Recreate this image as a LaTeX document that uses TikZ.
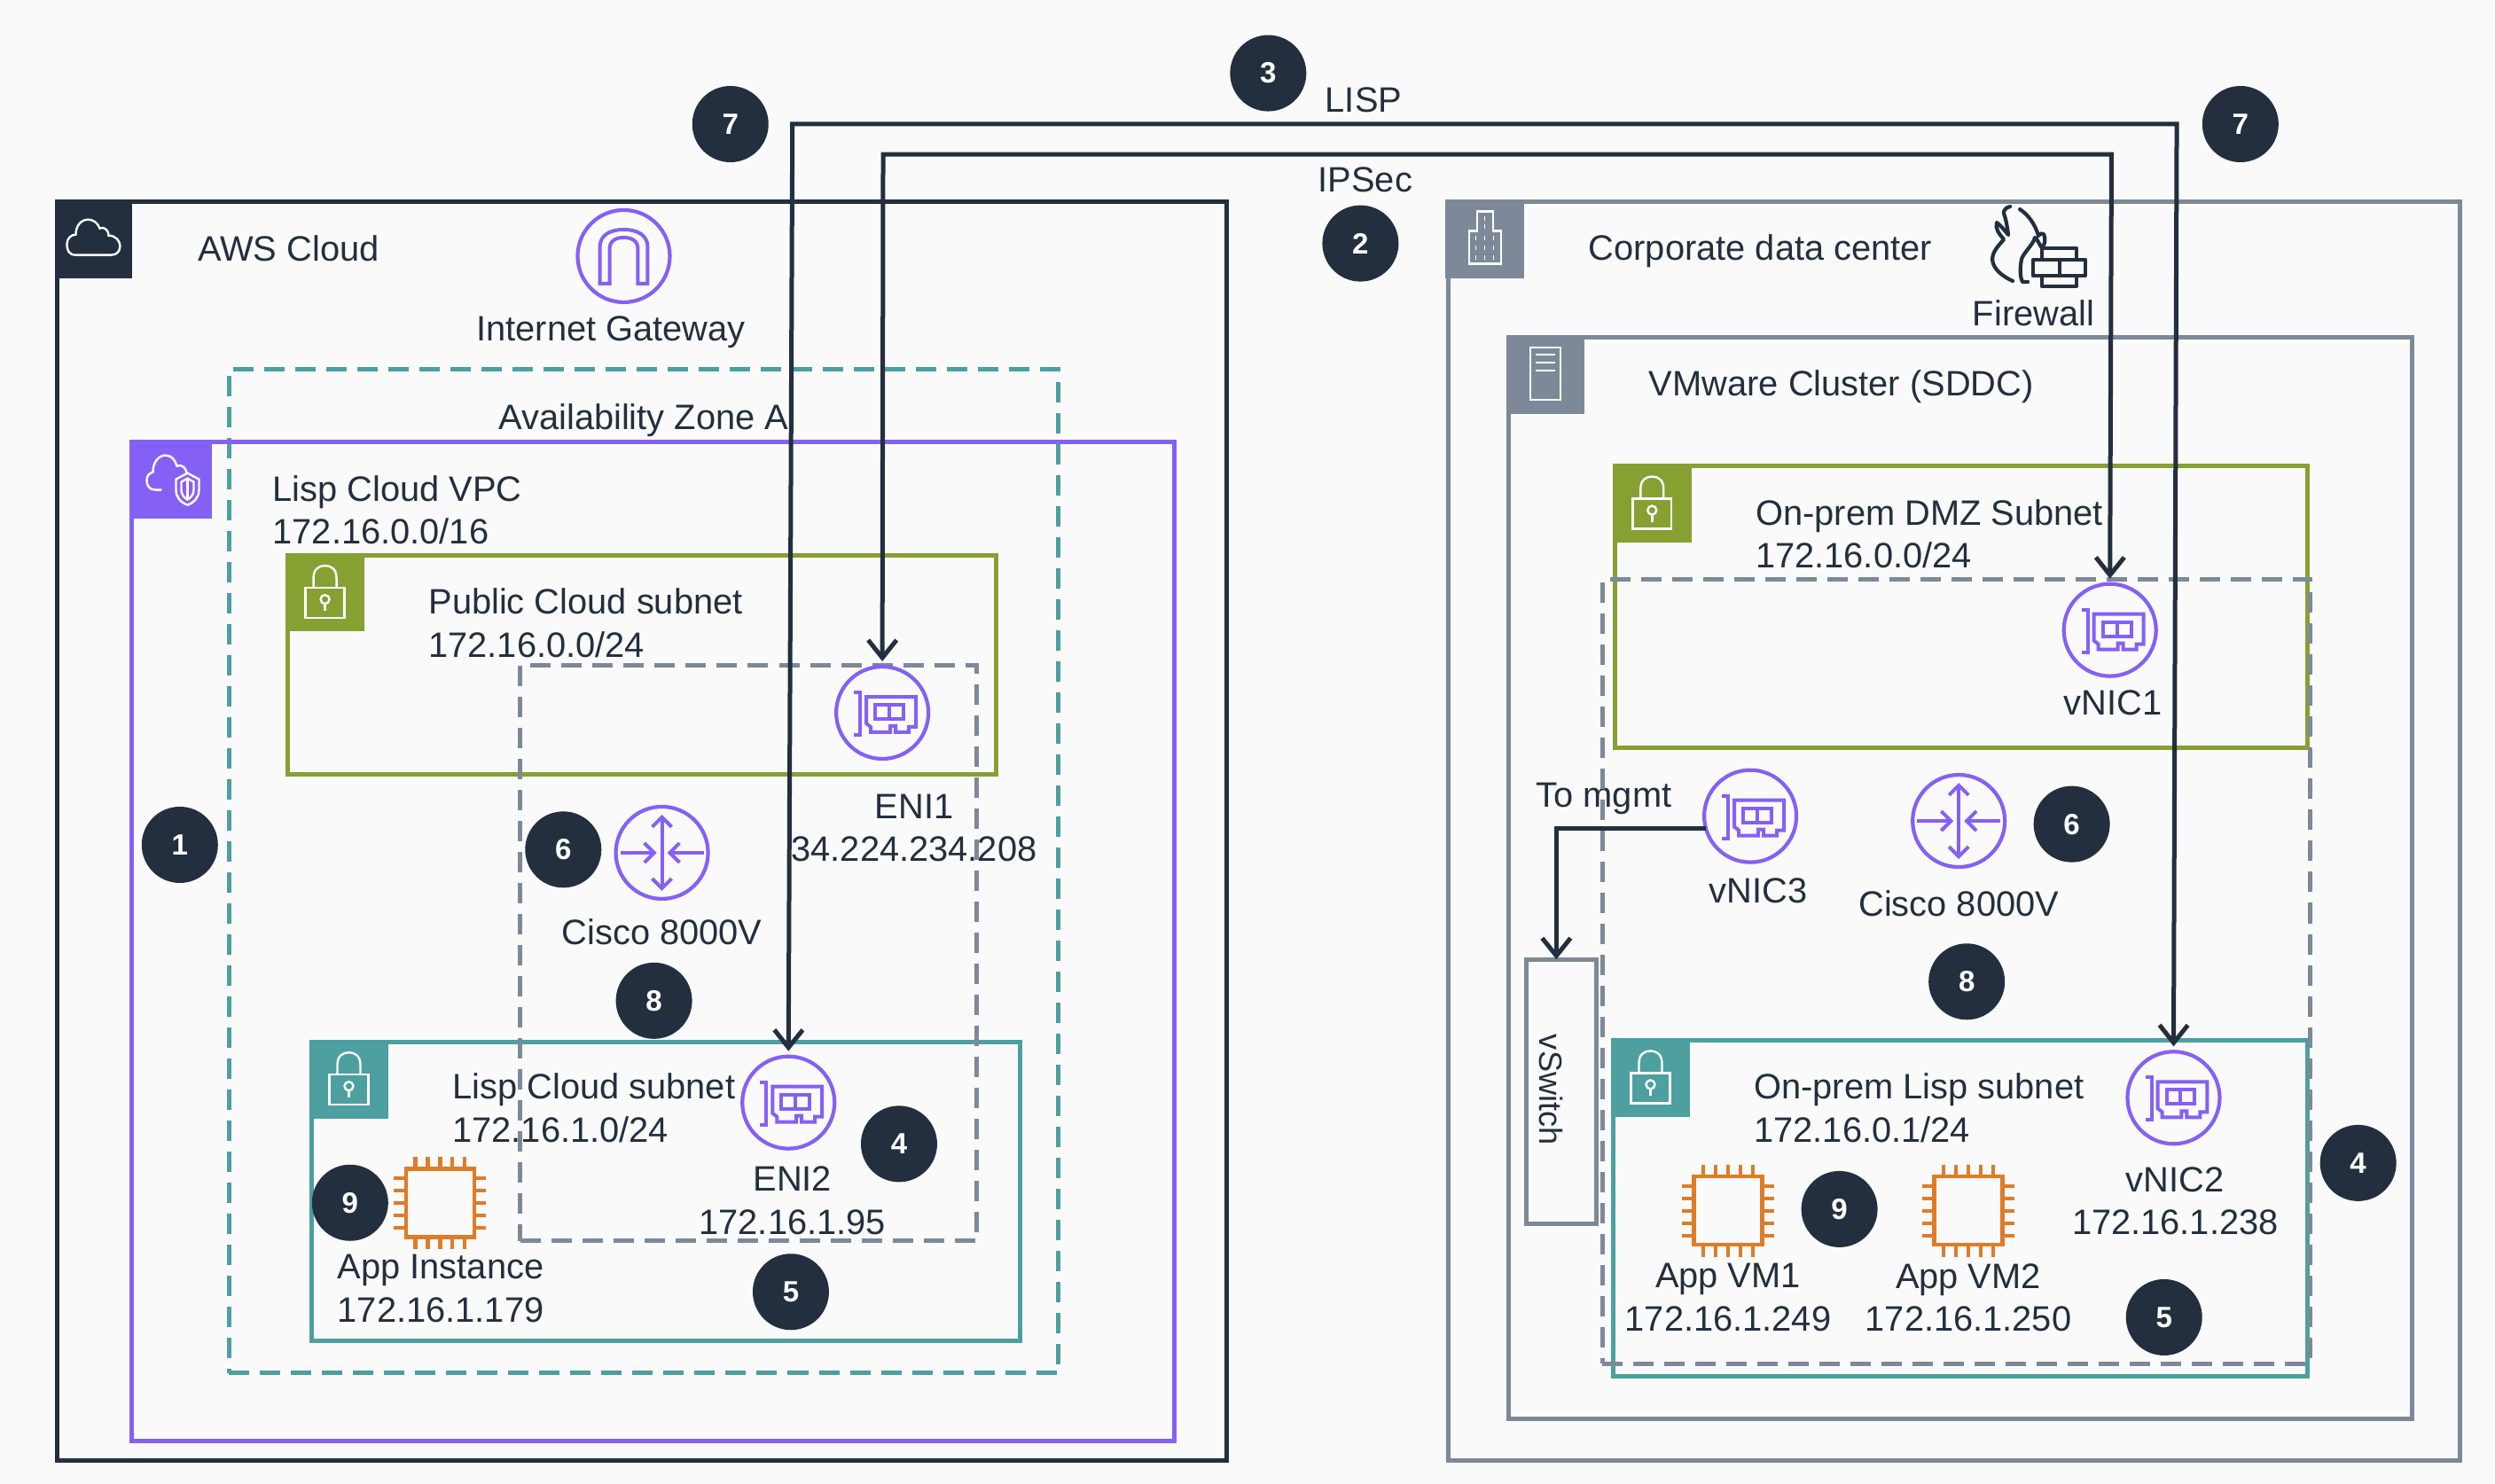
\documentclass[tikz,border=0pt]{standalone}
\usepackage{fontspec}
\setmainfont{Liberation Sans}
\usetikzlibrary{arrows.meta,fit,calc}
\definecolor{awsdark}{HTML}{232F3E}
\definecolor{awspurple}{HTML}{8560F5}
\definecolor{awsgreen}{HTML}{86A032}
\definecolor{awsteal}{HTML}{4D9FA0}
\definecolor{awsgray}{HTML}{7D8998}
\definecolor{awsorange}{HTML}{E07B27}
\definecolor{pagebg}{HTML}{FAFAFB}
\tikzset{
  px/.style={x=0.01cm,y=-0.01cm},
  frame/.style={draw=#1,line width=0.05cm,inner sep=0pt,outer sep=0pt},
  dashframe/.style={draw=#1,line width=0.05cm,inner sep=0pt,outer sep=0pt,dash pattern=on 0.23cm off 0.12cm},
  header/.style={fill=#1,inner sep=0pt,outer sep=0pt},
  lbl/.style={font=\fontsize{11.33}{13.8}\selectfont,text=awsdark,inner sep=0pt,align=left,anchor=west},
  clbl/.style={font=\fontsize{11.33}{13.8}\selectfont,text=awsdark,inner sep=0pt,align=center,anchor=center},
  iconc/.style={circle,draw=awspurple,line width=0.042cm,minimum size=1.04cm,inner sep=0pt,outer sep=0pt},
  chipbody/.style={rectangle,draw=awsorange,line width=0.045cm,minimum size=0.77cm,inner sep=0pt,outer sep=0pt},
  badge/.style={circle,fill=awsdark,text=white,font=\fontsize{9.4}{11}\selectfont\bfseries,minimum size=0.86cm,inner sep=0pt},
  link/.style={draw=awsdark,line width=0.05cm,shorten >=0.06cm,shorten <=0.06cm,
     arrows={-Straight Barb[length=0.2cm,width=0.32cm]}},
  biglink/.style={link,arrows={Straight Barb[length=0.2cm,width=0.32cm]-Straight Barb[length=0.2cm,width=0.32cm]}},
  glyph/.style={draw=white,line width=0.024cm},
  pics/lock/.style={code={\begin{scope}[px]
    \draw[glyph] (-22,-5) rectangle (22,29);
    \draw[glyph] (-13,-5) -- (-13,-16) .. controls (-13,-26) and (-7,-30) .. (0,-30) .. controls (7,-30) and (13,-26) .. (13,-16) -- (13,-5);
    \draw[glyph] (0,8) circle (5);
    \draw[glyph] (0,13) -- (0,21);
  \end{scope}}},
  pics/cloudg/.style={code={\begin{scope}[px]
    \draw[glyph] (-20,18) .. controls (-28,18) and (-30,12) .. (-30,6) .. controls (-30,-1) and (-25,-5) .. (-20,-5)
      .. controls (-20,-15) and (-14,-22) .. (-6,-22) .. controls (0,-22) and (5,-18) .. (7,-12)
      .. controls (10,-14) and (17,-12) .. (17,-4) .. controls (25,-4) and (30,2) .. (30,8)
      .. controls (30,14) and (26,18) .. (20,18) -- cycle;
  \end{scope}}},
  pics/vpcg/.style={code={\begin{scope}[px]
    \draw[glyph] (-10,12) -- (-17,12) .. controls (-24,12) and (-27,7) .. (-27,1) .. controls (-27,-4) and (-24,-7) .. (-20,-8)
      .. controls (-20,-20) and (-13,-27) .. (-6,-27) .. controls (1,-27) and (5,-22) .. (7,-15) .. controls (12,-17) and (17,-14) .. (18,-7);
    \draw[glyph] (19,-7) -- (32,0) -- (32,12) .. controls (32,20) and (27,26) .. (19,29) .. controls (11,26) and (6,20) .. (6,12) -- (6,0) -- cycle;
    \draw[glyph] (19,-1) -- (26,3) -- (26,12) .. controls (26,17) and (23,21) .. (19,23) .. controls (15,21) and (12,17) .. (12,12) -- (12,3) -- cycle;
    \draw[glyph] (19,-1) -- (19,23);
  \end{scope}}},
  pics/buildg/.style={code={\begin{scope}[px]
    \draw[glyph] (-18,28) -- (-18,-9) -- (-9,-9) -- (-9,-31) -- (9,-31) -- (9,-9) -- (18,-9) -- (18,28) -- cycle;
    \foreach \yy in {-4,7,18}{
      \foreach \xx in {-10,0,10}{\draw[glyph,line width=0.012cm] (\xx,\yy) -- (\xx,\yy+5);}}
    \draw[glyph,line width=0.012cm] (0,-26) -- (0,-21) (0,-17) -- (0,-12);
  \end{scope}}},
  pics/serverg/.style={code={\begin{scope}[px]
    \draw[glyph] (-17,-30) rectangle (17,29);
    \draw[glyph] (-11,-22) -- (11,-22) (-11,-13) -- (11,-13) (-11,-4) -- (11,-4);
  \end{scope}}},
  pics/nicg/.style={code={\begin{scope}[px]
    \draw[awspurple,line width=0.04cm] (-32,-23) -- (-25,-23) -- (-25,25) -- (-32,25);
    \draw[awspurple,line width=0.04cm] (-18,-18) -- (38,-18) -- (38,16) -- (30,16) -- (30,22) -- (15,22) -- (15,15) -- (9,15) -- (9,22) -- (-13,22) -- (-13,16) -- (-18,12) -- cycle;
    \draw[awspurple,line width=0.04cm] (-8,-9) rectangle (24,7);
    \draw[awspurple,line width=0.04cm] (8,-9) -- (8,7);
  \end{scope}}},
  pics/routerg/.style={code={\begin{scope}[px]
    \draw[awspurple,line width=0.04cm,arrows={Straight Barb[length=0.11cm,width=0.22cm]-Straight Barb[length=0.11cm,width=0.22cm]}] (0,-43) -- (0,43);
    \draw[awspurple,line width=0.04cm,arrows={-Straight Barb[length=0.11cm,width=0.22cm]}] (-47,0) -- (-6,0);
    \draw[awspurple,line width=0.04cm,arrows={-Straight Barb[length=0.11cm,width=0.22cm]}] (47,0) -- (6,0);
  \end{scope}}},
  pics/igwg/.style={code={\begin{scope}[px]
    \draw[awspurple,line width=0.04cm] (-27,31) -- (-27,-10) .. controls (-27,-24) and (-15,-30) .. (0,-30) .. controls (15,-30) and (27,-24) .. (27,-10) -- (27,31) -- (16,31) -- (16,-8)
      .. controls (16,-18) and (8,-21) .. (0,-21) .. controls (-8,-21) and (-16,-18) .. (-16,-8) -- (-16,31) -- cycle;
  \end{scope}}},
  pics/chippins/.style={code={\begin{scope}[px]
    \foreach \pp in {-28,-14,0,14,28}{
      \draw[awsorange,line width=0.042cm] (\pp,-39) -- (\pp,-52) (\pp,39) -- (\pp,52) (-39,\pp) -- (-52,\pp) (39,\pp) -- (52,\pp);
    }
  \end{scope}}},
  pics/fwg/.style={code={\begin{scope}[px,line join=round,line cap=round]
    \draw[awsdark,line width=0.042cm] (22,1) .. controls (14,3) and (14,8) .. (16,12) .. controls (18,18) and (19,26) .. (20,33) .. controls (16,28) and (11,22) .. (7,19)
       .. controls (5,26) and (9,31) .. (15,38) .. controls (8,46) and (2,52) .. (2,61) .. controls (3,72) and (14,80) .. (25,85);
    \draw[awsdark,line width=0.042cm] (33,4) .. controls (42,10) and (50,20) .. (54,34) .. controls (56,31) and (58,31) .. (60,32) .. controls (62,38) and (62,42) .. (58,48)
       .. controls (54,42) and (53,38) .. (50,36) .. controls (48,44) and (38,52) .. (35,60) .. controls (33,70) and (33,80) .. (36,86) -- (42,86);
    \draw[awsdark,line width=0.045cm] (58,48) rectangle (97,61) (48,61) rectangle (107,79) (58,79) rectangle (97,91) (78,61) -- (78,79);
  \end{scope}}}
}
\begin{document}
\begin{tikzpicture}[x=0.01794643cm,y=-0.01794643cm]
\useasboundingbox (0,0) rectangle (1568,932.78);
\fill[pagebg] (0,0) rectangle (1568,932.78);

% containers
\node[frame=awsdark,fit={(36,127) (771,918)}] (aws) {};
\node[dashframe=awsteal,fit={(144,232) (665,863)}] (azone) {};
\node[frame=awspurple,fit={(83,278) (738,906)}] (vpc) {};
\node[frame=awsgreen,fit={(181,349) (626,487)}] (pubsub) {};
\node[frame=awsteal,fit={(196,655) (641,843)}] (lispsub) {};
\node[frame=awsgray,fit={(910,127) (1546,918)}] (corp) {};
\node[frame=awsgray,fit={(948,212) (1516,892)}] (vmw) {};
\node[frame=awsgreen,fit={(1015,293) (1450,470)}] (dmz) {};
\node[frame=awsteal,fit={(1014,654) (1450,865)}] (onlisp) {};
\node[frame=awsgray,fit={(959,603) (1003,769)}] (vswitch) {};

% headers
\node[header=awsdark,fit={(34.5,125.5) (83,175)}] (hAws) {};
\node[header=awspurple,fit={(81.5,276.5) (133,326)}] (hVpc) {};
\node[header=awsgreen,fit={(179.5,347.5) (229,397)}] (hPub) {};
\node[header=awsteal,fit={(194.5,653.5) (244,703)}] (hLisp) {};
\node[header=awsgray,fit={(908.5,125.5) (958,175)}] (hCorp) {};
\node[header=awsgray,fit={(946.5,210.5) (996,260)}] (hVmw) {};
\node[header=awsgreen,fit={(1013.5,291.5) (1063,341)}] (hDmz) {};
\node[header=awsteal,fit={(1012.5,652.5) (1062,702)}] (hOn) {};
\path (hAws) pic {cloudg};
\path (hVpc) pic {vpcg};
\path (hPub) pic {lock};
\path (hLisp) pic {lock};
\path (hCorp) pic {buildg};
\path (hVmw) pic {serverg};
\path (hDmz) pic {lock};
\path (hOn) pic {lock};

% labels
\node[lbl] (tAws) at (124,156) {AWS Cloud};
\node[clbl] (tIgw) at (384,209) {Internet Gateway};
\node[lbl] (tAz) at (313,264) {Availability Zone A};
\node[lbl] (tVpc) at (171,320.5) {Lisp Cloud VPC\\172.16.0.0/16};
\node[lbl] (tPub) at (269,391.5) {Public Cloud subnet\\172.16.0.0/24};
\node[clbl] (tEni1) at (574.5,520.5) {ENI1\\34.224.234.208};
\node[clbl] (tCisco1) at (416,586) {Cisco 8000V};
\node[lbl] (tLisp) at (284,696.5) {Lisp Cloud subnet\\172.16.1.0/24};
\node[clbl] (tEni2) at (498,754.5) {ENI2\\172.16.1.95};
\node[clbl] (tApp) at (277,810) {App Instance\\172.16.1.179};
\node[clbl] (tLispL) at (857,63) {LISP};
\node[clbl] (tIpsec) at (858,113) {IPSec};
\node[lbl] (tCorp) at (998,158) {Corporate data center};
\node[clbl] (tFw) at (1278,197) {Firewall};
\node[lbl] (tVmw) at (1036,243) {VMware Cluster (SDDC)};
\node[lbl] (tDmz) at (1103,335.5) {On-prem DMZ Subnet\\172.16.0.0/24};
\node[clbl] (tV1) at (1328,442) {vNIC1};
\node[clbl] (tMgmt) at (1008,502) {To mgmt};
\node[clbl] (tV3) at (1105,560) {vNIC3};
\node[clbl] (tCisco2) at (1231,568) {Cisco 8000V};
\node[clbl,rotate=-90,font=\fontsize{10.3}{12}\selectfont] (tSw) at (975,685) {vSwitch};
\node[lbl] (tOn) at (1102,696.5) {On-prem Lisp subnet\\172.16.0.1/24};
\node[clbl] (tV2) at (1367,755) {vNIC2\\172.16.1.238};
\node[clbl] (tVm1) at (1086,815.5) {App VM1\\172.16.1.249};
\node[clbl] (tVm2) at (1237,815.5) {App VM2\\172.16.1.250};

% dashed groups over the text
\node[dashframe=awsgray,fit={(327,418) (614,780)}] (dashL) {};
\node[dashframe=awsgray,fit={(1007,364) (1452,857)}] (dashR) {};

% icons
\node[iconc] (igw) at (392,161) {};
\node[iconc] (eni1) at (554.5,448) {};
\node[iconc] (routerL) at (416,536) {};
\node[iconc] (eni2) at (495.5,693) {};
\node[iconc] (vnic1) at (1326,396) {};
\node[iconc] (vnic2) at (1366,690) {};
\node[iconc] (vnic3) at (1100,513) {};
\node[iconc] (routerR) at (1231,516) {};
\node[chipbody] (chipA) at (276.6,756) {};
\node[chipbody] (chipB) at (1086,761) {};
\node[chipbody] (chipC) at (1237,761) {};
\path (igw) pic {igwg};
\path (eni1) pic {nicg};
\path (eni2) pic {nicg};
\path (vnic1) pic {nicg};
\path (vnic2) pic {nicg};
\path (vnic3) pic {nicg};
\path (routerL) pic {routerg};
\path (routerR) pic {routerg};
\path (chipA) pic {chippins};
\path (chipB) pic {chippins};
\path (chipC) pic {chippins};
\coordinate (fwO) at (1251,129.3);
\path (fwO) pic {fwg};

% connectors
\coordinate (lispL) at (498,78);
\coordinate (lispR) at (1368,78);
\coordinate (ipsecL) at (555,97);
\coordinate (ipsecR) at (1327,97);
\draw[biglink] (eni2.north) -- (lispL) -- (lispR) -- (vnic2.north);
\draw[biglink] (eni1.north) -- (ipsecL) -- (ipsecR) -- (vnic1.north);
\draw[link,shorten >=0pt,shorten <=0pt] (vnic3.196) -| (vswitch.92.8);

% badges
\node[badge] (b3) at (797,46) {3};
\node[badge] (b7a) at (459,78) {7};
\node[badge] (b7b) at (1408,78) {7};
\node[badge] (b2) at (855,153) {2};
\node[badge] (b1) at (113,531) {1};
\node[badge] (b6a) at (354,534) {6};
\node[badge] (b8a) at (411,629) {8};
\node[badge] (b4a) at (565,719) {4};
\node[badge] (b5a) at (497,812) {5};
\node[badge] (b9a) at (220,756) {9};
\node[badge] (b6b) at (1302,518) {6};
\node[badge] (b8b) at (1236,617) {8};
\node[badge] (b4b) at (1482,731) {4};
\node[badge] (b5b) at (1360,828) {5};
\node[badge] (b9b) at (1156,760) {9};
\end{tikzpicture}
\end{document}
